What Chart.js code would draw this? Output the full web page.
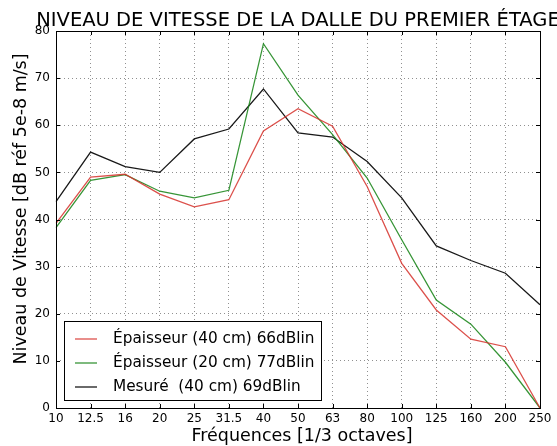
<!DOCTYPE html>
<html lang="fr">
<head>
<meta charset="UTF-8">
<title>Niveau de vitesse - dalle du premier étage</title>
<script src="https://cdn.jsdelivr.net/npm/chart.js"></script>
<style>
  html, body { margin: 0; padding: 0; background: #fff; }
  #wrap { width: 557px; height: 446px; }
</style>
</head>
<body>
<div id="wrap"><canvas id="graficoVitesse" width="557" height="446"></canvas></div>
<script>
  // bandes de tiers d'octave
  const frequences = ['10', '12.5', '16', '20', '25', '31.5', '40', '50', '63', '80', '100', '125', '160', '200', '250'];

  const epaisseur40 = [39.2, 49.0, 49.6, 45.4, 42.7, 44.2, 58.8, 63.5, 59.8, 47.0, 30.7, 20.8, 14.6, 13.0, 0];
  const epaisseur20 = [38.3, 48.3, 49.5, 46.0, 44.6, 46.2, 77.3, 66.4, 58.0, 48.8, 35.7, 22.9, 17.8, 9.7, 0];
  const mesure40    = [43.8, 54.3, 51.2, 50.0, 57.1, 59.2, 67.7, 58.4, 57.5, 52.3, 44.6, 34.4, 31.3, 28.6, 21.9];

  const labelsSeries = ['Épaisseur (40 cm) 66dBlin', 'Épaisseur (20 cm) 77dBlin', 'Mesuré  (40 cm) 69dBlin'];
  const couleurs = ['rgba(214, 50, 45, 0.85)', 'rgba(20, 130, 20, 0.85)', 'rgba(0, 0, 0, 0.9)'];

  const titre = 'NIVEAU DE VITESSE DE LA DALLE DU PREMIER ÉTAGE';
  const titreX = 'Fréquences [1/3 octaves]';
  const titreY = 'Niveau de Vitesse [dB réf 5e-8 m/s]';

  const police = '"DejaVu Sans", sans-serif';

  // cadre, petites graduations internes, titres et légende dans le graphique
  const decor = {
    id: 'decor',
    afterDraw(chart) {
      const ctx = chart.ctx;
      const a = chart.chartArea;
      const xs = chart.scales.x, ys = chart.scales.y;
      ctx.save();

      // graduations vers l'intérieur
      ctx.strokeStyle = '#000';
      ctx.lineWidth = 1;
      ctx.beginPath();
      frequences.forEach((f, i) => {
        const x = Math.round(xs.getPixelForValue(i)) + 0.5;
        ctx.moveTo(x, a.bottom); ctx.lineTo(x, a.bottom - 4);
        ctx.moveTo(x, a.top); ctx.lineTo(x, a.top + 4);
      });
      for (let v = 0; v <= 80; v += 10) {
        const y = Math.round(ys.getPixelForValue(v)) + 0.5;
        ctx.moveTo(a.left, y); ctx.lineTo(a.left + 4, y);
        ctx.moveTo(a.right, y); ctx.lineTo(a.right - 4, y);
      }
      ctx.stroke();

      // cadre
      ctx.strokeRect(Math.round(a.left) + 0.5, Math.round(a.top) + 0.5,
        Math.round(a.right - a.left), Math.round(a.bottom - a.top));

      // titres
      ctx.fillStyle = '#000';
      ctx.textAlign = 'center';
      ctx.textBaseline = 'alphabetic';
      ctx.font = '19.5px ' + police;
      const cx = (a.left + a.right) / 2;
      ctx.fillText(titre, cx, 26);

      ctx.font = '17.5px ' + police;
      ctx.fillText(titreX, cx + 4, 441);

      ctx.save();
      ctx.translate(26, 209);
      ctx.rotate(-Math.PI / 2);
      ctx.fillText(titreY, 0, 0);
      ctx.restore();

      // légende
      const lx = 64, ly = 321, lw = 257, lh = 79;
      ctx.fillStyle = '#fff';
      ctx.fillRect(lx, ly, lw, lh);
      ctx.strokeStyle = '#000';
      ctx.lineWidth = 1;
      ctx.strokeRect(lx + 0.5, ly + 0.5, lw, lh);
      ctx.font = '15.3px ' + police;
      ctx.textAlign = 'left';
      ctx.textBaseline = 'middle';
      chart.data.datasets.forEach((ds, i) => {
        const y = ly + 18 + i * 24;
        ctx.strokeStyle = ds.borderColor;
        ctx.lineWidth = 1.3;
        ctx.beginPath();
        ctx.moveTo(75, y); ctx.lineTo(97, y);
        ctx.stroke();
        ctx.fillStyle = '#000';
        ctx.fillText(ds.label, 113, y);
      });
      ctx.restore();
    }
  };

  new Chart(document.getElementById('graficoVitesse'), {
    type: 'line',
    data: {
      labels: frequences,
      datasets: [epaisseur40, epaisseur20, mesure40].map((d, i) => ({
        label: labelsSeries[i],
        data: d,
        borderColor: couleurs[i],
        borderWidth: 1.3,
        pointRadius: 0,
        tension: 0,
        fill: false
      }))
    },
    options: {
      responsive: false,
      animation: false,
      layout: { padding: { left: 0, right: 17, top: 31, bottom: 0 } },
      plugins: {
        legend: { display: false },
        title: { display: false },
        tooltip: { enabled: false }
      },
      scales: {
        x: {
          offset: false,
          grid: { color: 'rgba(0,0,0,0.55)', lineWidth: 0.8, drawTicks: false },
          border: { display: false, dash: [1, 3] },
          ticks: { color: '#000', font: { family: police, size: 12 }, padding: 4, maxRotation: 0, autoSkip: false },
          afterFit(s) { s.height = 38; }
        },
        y: {
          min: 0,
          max: 80,
          grid: { color: 'rgba(0,0,0,0.55)', lineWidth: 0.8, drawTicks: false },
          border: { display: false, dash: [1, 3] },
          ticks: { stepSize: 10, color: '#000', font: { family: police, size: 12 }, padding: 6 },
          afterFit(s) { s.width = 56; }
        }
      }
    },
    plugins: [decor]
  });
</script>
</body>
</html>
